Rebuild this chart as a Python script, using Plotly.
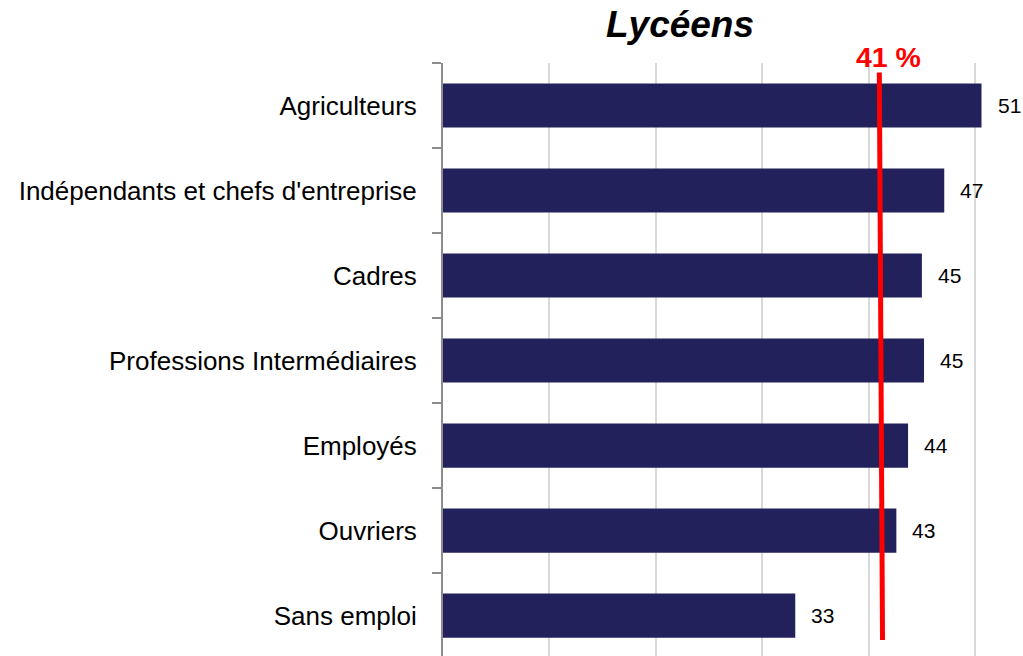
import plotly.graph_objects as go

categories = ["Agriculteurs", "Indépendants et chefs d'entreprise", "Cadres",
              "Professions Intermédiaires", "Employés", "Ouvriers", "Sans emploi"]
values = [50.6, 47.1, 45.0, 45.2, 43.7, 42.6, 33.1]
value_labels = ["51", "47", "45", "45", "44", "43", "33"]
reference_value = [41.0, 41.3]
reference_label = "41 %"
title = "Lycéens"

FONT = "Arial, Liberation Sans, sans-serif"

fig = go.Figure()
fig.add_trace(go.Bar(
    x=values, y=categories, orientation="h",
    marker=dict(color="#22215B", line=dict(width=0)),
    width=0.52, hoverinfo="skip",
))

for v, lab, cat in zip(values, value_labels, categories):
    fig.add_annotation(x=v, y=cat, text=lab, showarrow=False, xanchor="left",
                       xshift=14, font=dict(family=FONT, size=21, color="#000"))

fig.add_shape(type="line", xref="x", yref="paper",
              x0=reference_value[0], x1=reference_value[1], y0=0.984, y1=0.027,
              line=dict(color="#FF0000", width=5))
fig.add_annotation(x=(reference_value[0] + reference_value[1]) / 2, xshift=8, yref="paper", y=1.0,
                   yanchor="bottom", yshift=-12, text="<b>" + reference_label + "</b>", showarrow=False,
                   font=dict(family=FONT, size=28.5, color="#FF0000"))

fig.update_layout(
    width=1023, height=656,
    margin=dict(l=443, r=0, t=63, b=0),
    paper_bgcolor="white", plot_bgcolor="white",
    showlegend=False,
    title=dict(text="<b><i>" + title + "</i></b>", x=680 / 1023, xanchor="center",
               y=1 - 24 / 656, yanchor="middle",
               font=dict(family=FONT, size=37, color="#000")),
    xaxis=dict(range=[0, 54.5], tickvals=[10, 20, 30, 40, 50], showticklabels=False,
               showgrid=True, gridcolor="#D9D9D9", gridwidth=1.5, zeroline=False,
               showline=False, ticks=""),
    yaxis=dict(categoryorder="array", categoryarray=categories,
               range=[6.476, -0.5], showline=True, linecolor="#8C8C8C", linewidth=2,
               ticks="outside", ticklen=9, tickcolor="#8C8C8C", tickwidth=2,
               tickson="boundaries", ticklabelstandoff=19, showgrid=False,
               tickfont=dict(family=FONT, size=26, color="#000")),
)

fig.write_html("out.html", config={"displayModeBar": False},
               post_script="document.body.style.margin='0';")
